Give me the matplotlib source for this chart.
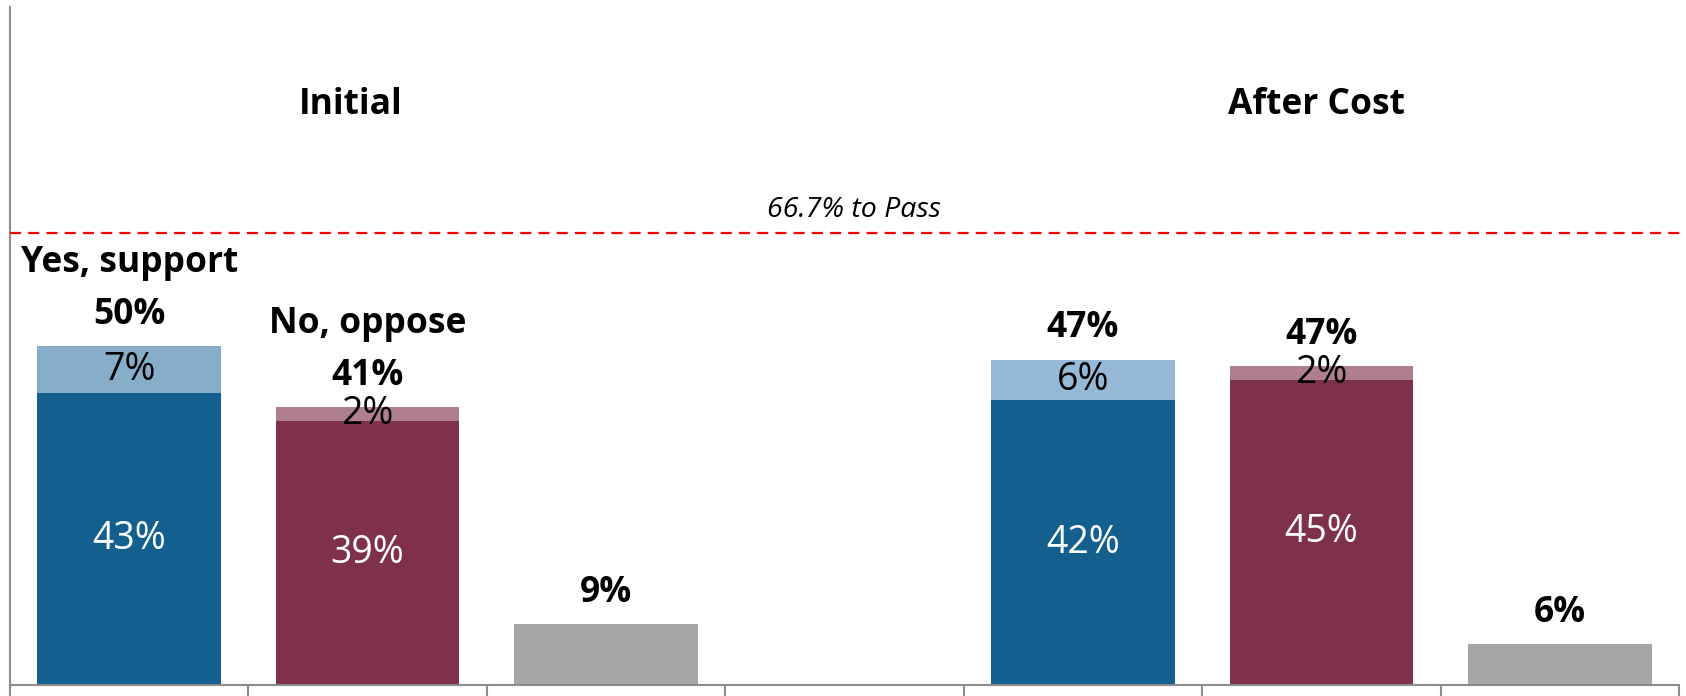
import matplotlib
matplotlib.use("Agg")
import matplotlib.pyplot as plt
import matplotlib.transforms as mtransforms

plt.rcParams['font.family'] = ['Open Sans', 'DejaVu Sans']

# Survey results: two waves, each with support / oppose / undecided
groups = ["Initial", "After Cost"]
support_firm = [43, 42]
support_lean = [7, 6]
support_total = [50, 47]
oppose_firm = [39, 45]
oppose_lean = [2, 2]
oppose_total = [41, 47]
undecided = [9, 6]
series_names = ["Yes, support", "No, oppose"]
pass_threshold = 66.7
pass_label = "66.7% to Pass"

# Bar slots: three per wave with an empty slot between waves
group_positions = [[0, 1, 2], [4, 5, 6]]
group_title_x = [0.93, 4.98]

c_sup_dark = "#13608F"
c_sup_light = ["#87AEC8", "#97B9D8"]
c_opp_dark = "#7F304C"
c_opp_light = "#B07F8D"
c_und = "#A6A6A6"
c_axis = "#8C8C8C"

W, H = 1686, 696
fig = plt.figure(figsize=(W / 100, H / 100), dpi=100)
ax = fig.add_axes([10 / W, 11 / H, 1669 / W, 678 / H])

bw = 0.77
lab_off = 4.6
name_off = 7.7
big = 25.5
inner = 27

for g in range(len(groups)):
    xs, xo, xu = group_positions[g]
    # support stack
    ax.bar(xs, support_firm[g], bw, color=c_sup_dark)
    ax.bar(xs, support_lean[g], bw, bottom=support_firm[g], color=c_sup_light[g])
    # oppose stack
    ax.bar(xo, oppose_firm[g], bw, color=c_opp_dark)
    ax.bar(xo, oppose_lean[g], bw, bottom=oppose_firm[g], color=c_opp_light)
    # undecided
    ax.bar(xu, undecided[g], bw, color=c_und)

    # segment labels
    ax.text(xs, support_firm[g] / 2, f"{support_firm[g]}%", color="white",
            ha="center", va="center", fontsize=inner)
    ax.text(xs, support_firm[g] + support_lean[g] / 2, f"{support_lean[g]}%",
            color="black", ha="center", va="center", fontsize=inner)
    ax.text(xo, oppose_firm[g] / 2, f"{oppose_firm[g]}%", color="white",
            ha="center", va="center", fontsize=inner)
    ax.text(xo, oppose_firm[g] + oppose_lean[g] / 2, f"{oppose_lean[g]}%",
            color="black", ha="center", va="center", fontsize=inner)

    # totals above bars
    s_top = support_firm[g] + support_lean[g]
    o_top = oppose_firm[g] + oppose_lean[g]
    ax.text(xs, s_top + lab_off, f"{support_total[g]}%", ha="center",
            va="center", fontsize=big, fontweight="bold")
    ax.text(xo, o_top + lab_off, f"{oppose_total[g]}%", ha="center",
            va="center", fontsize=big, fontweight="bold")
    ax.text(xu, undecided[g] + lab_off, f"{undecided[g]}%", ha="center",
            va="center", fontsize=big, fontweight="bold")

    if g == 0:
        ax.text(xs, s_top + lab_off + name_off, series_names[0], ha="center",
                va="center", fontsize=big, fontweight="bold")
        ax.text(xo, o_top + lab_off + name_off, series_names[1], ha="center",
                va="center", fontsize=big, fontweight="bold")

    ax.text(group_title_x[g], 85.5, groups[g], ha="center", va="center",
            fontsize=big, fontweight="bold")

# pass threshold line
trans = mtransforms.blended_transform_factory(ax.transAxes, ax.transData)
ax.plot([0, (W - 10) / 1669], [pass_threshold, pass_threshold], transform=trans,
        color="#FF0000", lw=1.6, linestyle=(0, (5, 3.2)), clip_on=False, zorder=3)
ax.text(3.04, pass_threshold + 3.3, pass_label, ha="center", va="center",
        fontsize=20.5, fontstyle="italic")

ax.set_xlim(-0.5, 6.5)
ax.set_ylim(0, 100)
ax.set_xticks([i - 0.5 for i in range(8)])
ax.set_xticklabels([])
ax.set_yticks([])
ax.tick_params(axis="x", direction="out", length=8, width=1.5, color=c_axis)
for side in ("top", "right"):
    ax.spines[side].set_visible(False)
for side in ("left", "bottom"):
    ax.spines[side].set_color(c_axis)
    ax.spines[side].set_linewidth(1.5)

fig.savefig("out.png", dpi=100)
